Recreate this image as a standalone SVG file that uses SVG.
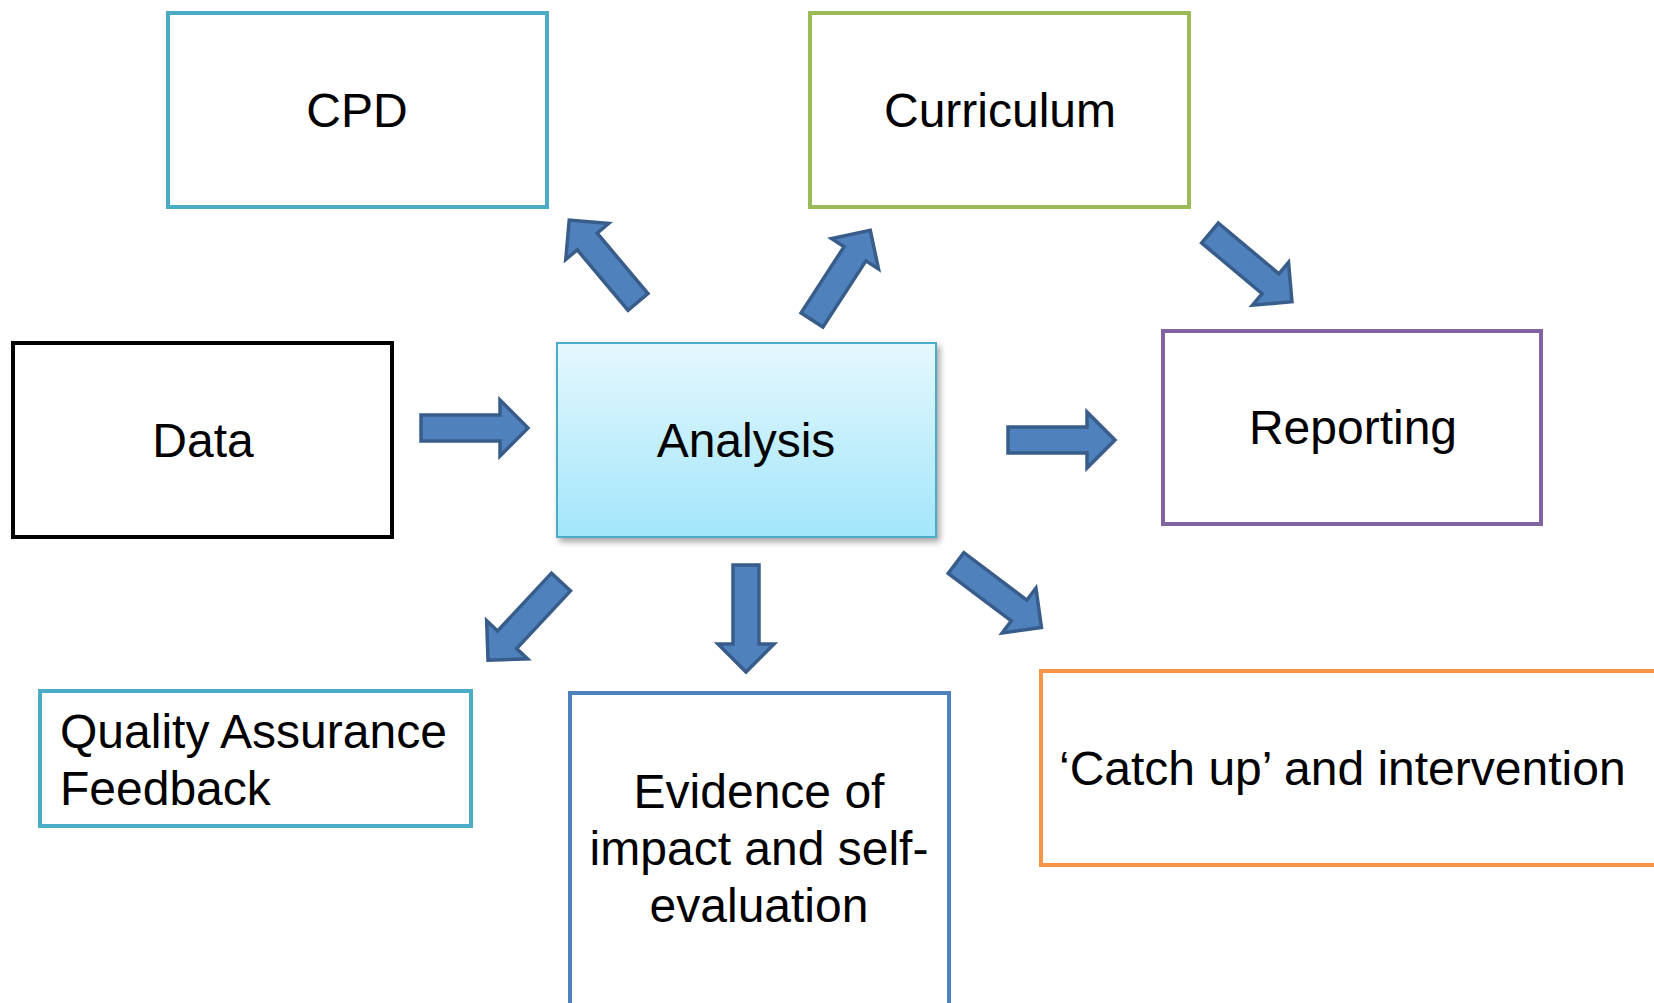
<svg xmlns="http://www.w3.org/2000/svg" width="1654" height="1003" viewBox="0 0 1654 1003">
<defs>
<linearGradient id="g" x1="0" y1="0" x2="0" y2="1">
<stop offset="0" stop-color="#E5F8FD"/>
<stop offset="1" stop-color="#A3E6FB"/>
</linearGradient>
<filter id="sh" x="-10%" y="-10%" width="125%" height="130%">
<feDropShadow dx="3" dy="4" stdDeviation="3" flood-color="#000" flood-opacity="0.35"/>
</filter>
<path id="arrow" d="M0,-13 L79,-13 L79,-28 L107,0 L79,28 L79,13 L0,13 Z"/>
</defs>
<style>
.box{fill:#fff;stroke-width:4}
.t{font-family:"Liberation Sans",Arial,sans-serif;font-size:48px;fill:#000}
.c{text-anchor:middle}
.arr{fill:#4F81BD;stroke:#385D8A;stroke-width:3.5;stroke-linejoin:miter}
</style>
<rect width="1654" height="1003" fill="#fff"/>
<g id="cpd">
<rect class="box" x="168" y="13" width="379" height="194" stroke="#4BACC6"/>
<text class="t c" x="357" y="127">CPD</text>
</g>
<g id="curriculum">
<rect class="box" x="810" y="13" width="379" height="194" stroke="#9BBB59"/>
<text class="t c" x="1000" y="127">Curriculum</text>
</g>
<g id="data">
<rect class="box" x="13" y="343" width="379" height="194" stroke="#000" stroke-width="4.5"/>
<text class="t c" x="203" y="457">Data</text>
</g>
<g id="analysis">
<rect x="557" y="343" width="379" height="194" fill="url(#g)" stroke="#4BACC6" stroke-width="2" filter="url(#sh)"/>
<text class="t c" x="746" y="457">Analysis</text>
</g>
<g id="reporting">
<rect class="box" x="1163" y="331" width="378" height="193" stroke="#8064A2"/>
<text class="t c" x="1353" y="444">Reporting</text>
</g>
<g id="quality">
<rect class="box" x="40" y="691" width="431" height="135" stroke="#4BACC6"/>
<text class="t" x="60" y="748">Quality Assurance</text>
<text class="t" x="60" y="805">Feedback</text>
</g>
<g id="evidence">
<rect class="box" x="570" y="693" width="379" height="330" stroke="#4F81BD"/>
<text class="t c" x="759" y="808">Evidence of</text>
<text class="t c" x="759" y="865">impact and self-</text>
<text class="t c" x="759" y="922">evaluation</text>
</g>
<g id="catchup">
<rect class="box" x="1041" y="671" width="650" height="194" stroke="#F79646"/>
<text class="t" x="1059" y="785">‘Catch up’ and intervention</text>
</g>
<g id="connectors">
<use href="#arrow" class="arr" transform="translate(421,428)"/>
<use href="#arrow" class="arr" transform="translate(1008,440)"/>
<use href="#arrow" class="arr" transform="translate(638,302) rotate(-130)"/>
<use href="#arrow" class="arr" transform="translate(812,320) rotate(-57)"/>
<use href="#arrow" class="arr" transform="translate(1210,233) rotate(40)"/>
<use href="#arrow" class="arr" transform="translate(561,582) rotate(133)"/>
<use href="#arrow" class="arr" transform="translate(746,565) rotate(90)"/>
<use href="#arrow" class="arr" transform="translate(956,563) rotate(37)"/>
</g>
</svg>
